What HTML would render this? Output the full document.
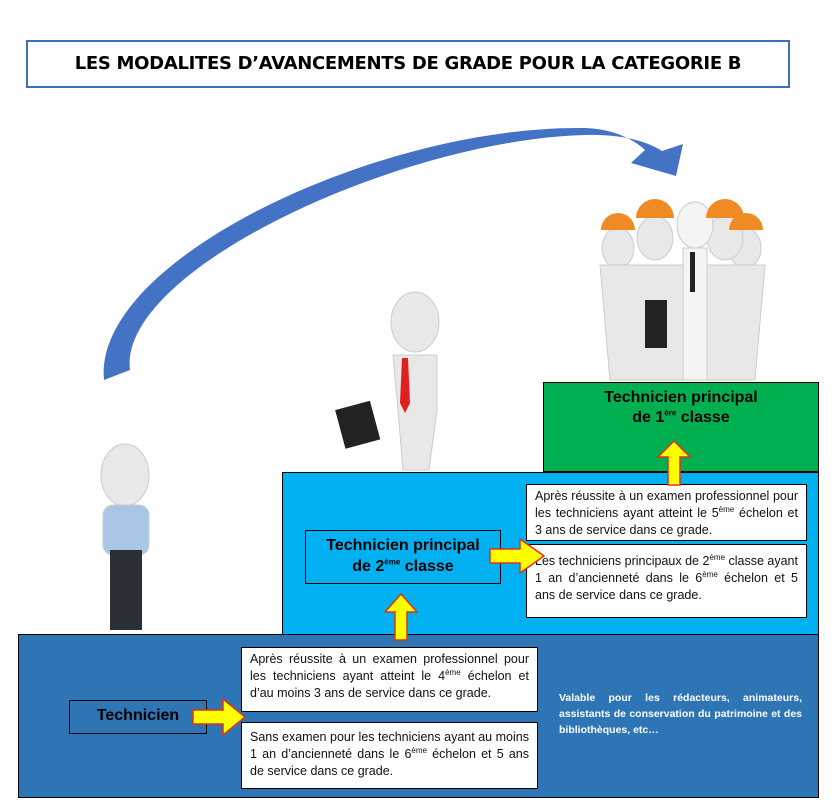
<!DOCTYPE html>
<html><head><meta charset="utf-8"><style>
body{margin:0;width:835px;height:808px;background:#fff;position:relative;overflow:hidden;font-family:"Liberation Sans",sans-serif}
.a{position:absolute;box-sizing:border-box}
.w{background:#fff;border:1.5px solid #000;font-family:"Liberation Sans Narrow","Liberation Sans",sans-serif;font-size:12.5px;line-height:17px;color:#111;padding:3px 8px;text-align:justify}
sup{font-size:8px;line-height:0}
.h{font-weight:bold;font-size:16px;text-align:center;color:#000;line-height:20px}
</style></head><body>
<div class="a" style="left:26px;top:40px;width:764px;height:48px;border:2.5px solid #3a72b8;font-family:'Comic Sans MS','DejaVu Sans',sans-serif;font-weight:bold;font-size:18px;text-align:center;line-height:43px;letter-spacing:-0.3px">LES MODALITES D’AVANCEMENTS DE GRADE POUR LA CATEGORIE B</div>

<svg class="a" style="left:0;top:0" width="835" height="808">
<path d="M104,380 C92,260 380,125 585,128 C612,129 632,138 645,150 L631,163 L676,176 L683,144 L662,151 C645,140 618,134 585,135 C400,140 118,270 130,370 Z" fill="#4472c4"/>
<!-- figures -->
<g fill="#e8e8e8" stroke="#ccc">
<ellipse cx="125" cy="475" rx="24" ry="31"/>
<rect x="103" y="505" width="46" height="50" rx="10" fill="#a9c6e6"/>
<rect x="110" y="550" width="32" height="80" fill="#2a2f38" stroke="none"/>
<ellipse cx="415" cy="322" rx="24" ry="30"/>
<path d="M393,355 h44 v55 l-8,60 h-26 l-5,-60 z"/>
<rect x="340" y="405" width="36" height="40" fill="#222" stroke="none" transform="rotate(-15 357 426)"/>
<path d="M402,358 l6,0 l2,45 l-5,10 l-5,-10z" fill="#e02020" stroke="none"/>
<ellipse cx="618" cy="248" rx="16" ry="20"/><ellipse cx="745" cy="248" rx="16" ry="20"/>
<ellipse cx="655" cy="238" rx="18" ry="22"/><ellipse cx="725" cy="238" rx="18" ry="22"/>
<path d="M600,265 h165 l-10,115 h-145z"/>
<ellipse cx="695" cy="225" rx="18" ry="23" fill="#f4f4f4"/>
<path d="M683,248 h24 v132 h-24z" fill="#f4f4f4"/>
<rect x="690" y="252" width="5" height="40" fill="#222" stroke="none"/>
<rect x="645" y="300" width="22" height="48" fill="#222" stroke="none"/>
</g>
<g fill="#f08a24"><path d="M601,230 a17,17 0 0 1 34,0z"/><path d="M636,218 a19,19 0 0 1 38,0z"/><path d="M706,218 a19,19 0 0 1 38,0z"/><path d="M729,230 a17,17 0 0 1 34,0z"/></g>
</svg>

<div class="a" style="left:543px;top:382px;width:276px;height:90px;background:#00b050;border:1.5px solid #000"></div>
<div class="a h" style="left:543px;top:388px;width:276px">Technicien principal<br>de 1<sup>ère</sup> classe</div>
<div class="a" style="left:282px;top:472px;width:537px;height:165px;background:#00b0f0;border:1.5px solid #000"></div>
<div class="a" style="left:18px;top:634px;width:801px;height:164px;background:#2e75b6;border:1.5px solid #000"></div>

<div class="a" style="left:305px;top:530px;width:196px;height:54px;border:1.5px solid #000"></div>
<div class="a h" style="left:305px;top:535px;width:196px;line-height:21px">Technicien principal<br>de 2<sup>ème</sup> classe</div>
<div class="a w" style="left:526px;top:484px;width:281px;height:57px">Après réussite à un examen professionnel pour les techniciens ayant atteint le 5<sup>ème</sup> échelon et 3 ans de service dans ce grade.</div>
<div class="a w" style="left:526px;top:544px;width:281px;height:74px;padding-top:8px">Les techniciens principaux de 2<sup>ème</sup> classe ayant 1 an d’ancienneté dans le 6<sup>ème</sup> échelon et 5 ans de service dans ce grade.</div>

<div class="a" style="left:69px;top:700px;width:138px;height:34px;border:1.5px solid #000"></div>
<div class="a h" style="left:69px;top:706px;width:138px">Technicien</div>
<div class="a w" style="left:241px;top:647px;width:297px;height:65px">Après réussite à un examen professionnel pour les techniciens ayant atteint le 4<sup>ème</sup> échelon et d’au moins 3 ans de service dans ce grade.</div>
<div class="a w" style="left:241px;top:722px;width:297px;height:67px;padding-top:6px">Sans examen pour les techniciens ayant au moins 1 an d’ancienneté dans le 6<sup>ème</sup> échelon et 5 ans de service dans ce grade.</div>
<div class="a" style="left:559px;top:690px;width:243px;color:#fff;font-weight:bold;font-size:10.5px;line-height:16px;text-align:justify;font-family:'Liberation Sans Narrow','Liberation Sans',sans-serif">Valable pour les rédacteurs, animateurs, assistants de conservation du patrimoine et des bibliothèques, etc…</div>

<svg class="a" style="left:0;top:0" width="835" height="808">
<g fill="#ffff00" stroke="#e03020" stroke-width="1.5">
<path d="M193,710 h30 v-11 l22,18 l-22,18 v-11 h-30z"/>
<path d="M490,549 h30 v-10 l24,17 l-24,17 v-10 h-30z"/>
<path d="M395,640 v-28 h-10 l16,-18 l16,18 h-10 v28z"/>
<path d="M668,485 v-28 h-10 l16,-16 l16,16 h-10 v28z"/>
</g></svg>
</body></html>
